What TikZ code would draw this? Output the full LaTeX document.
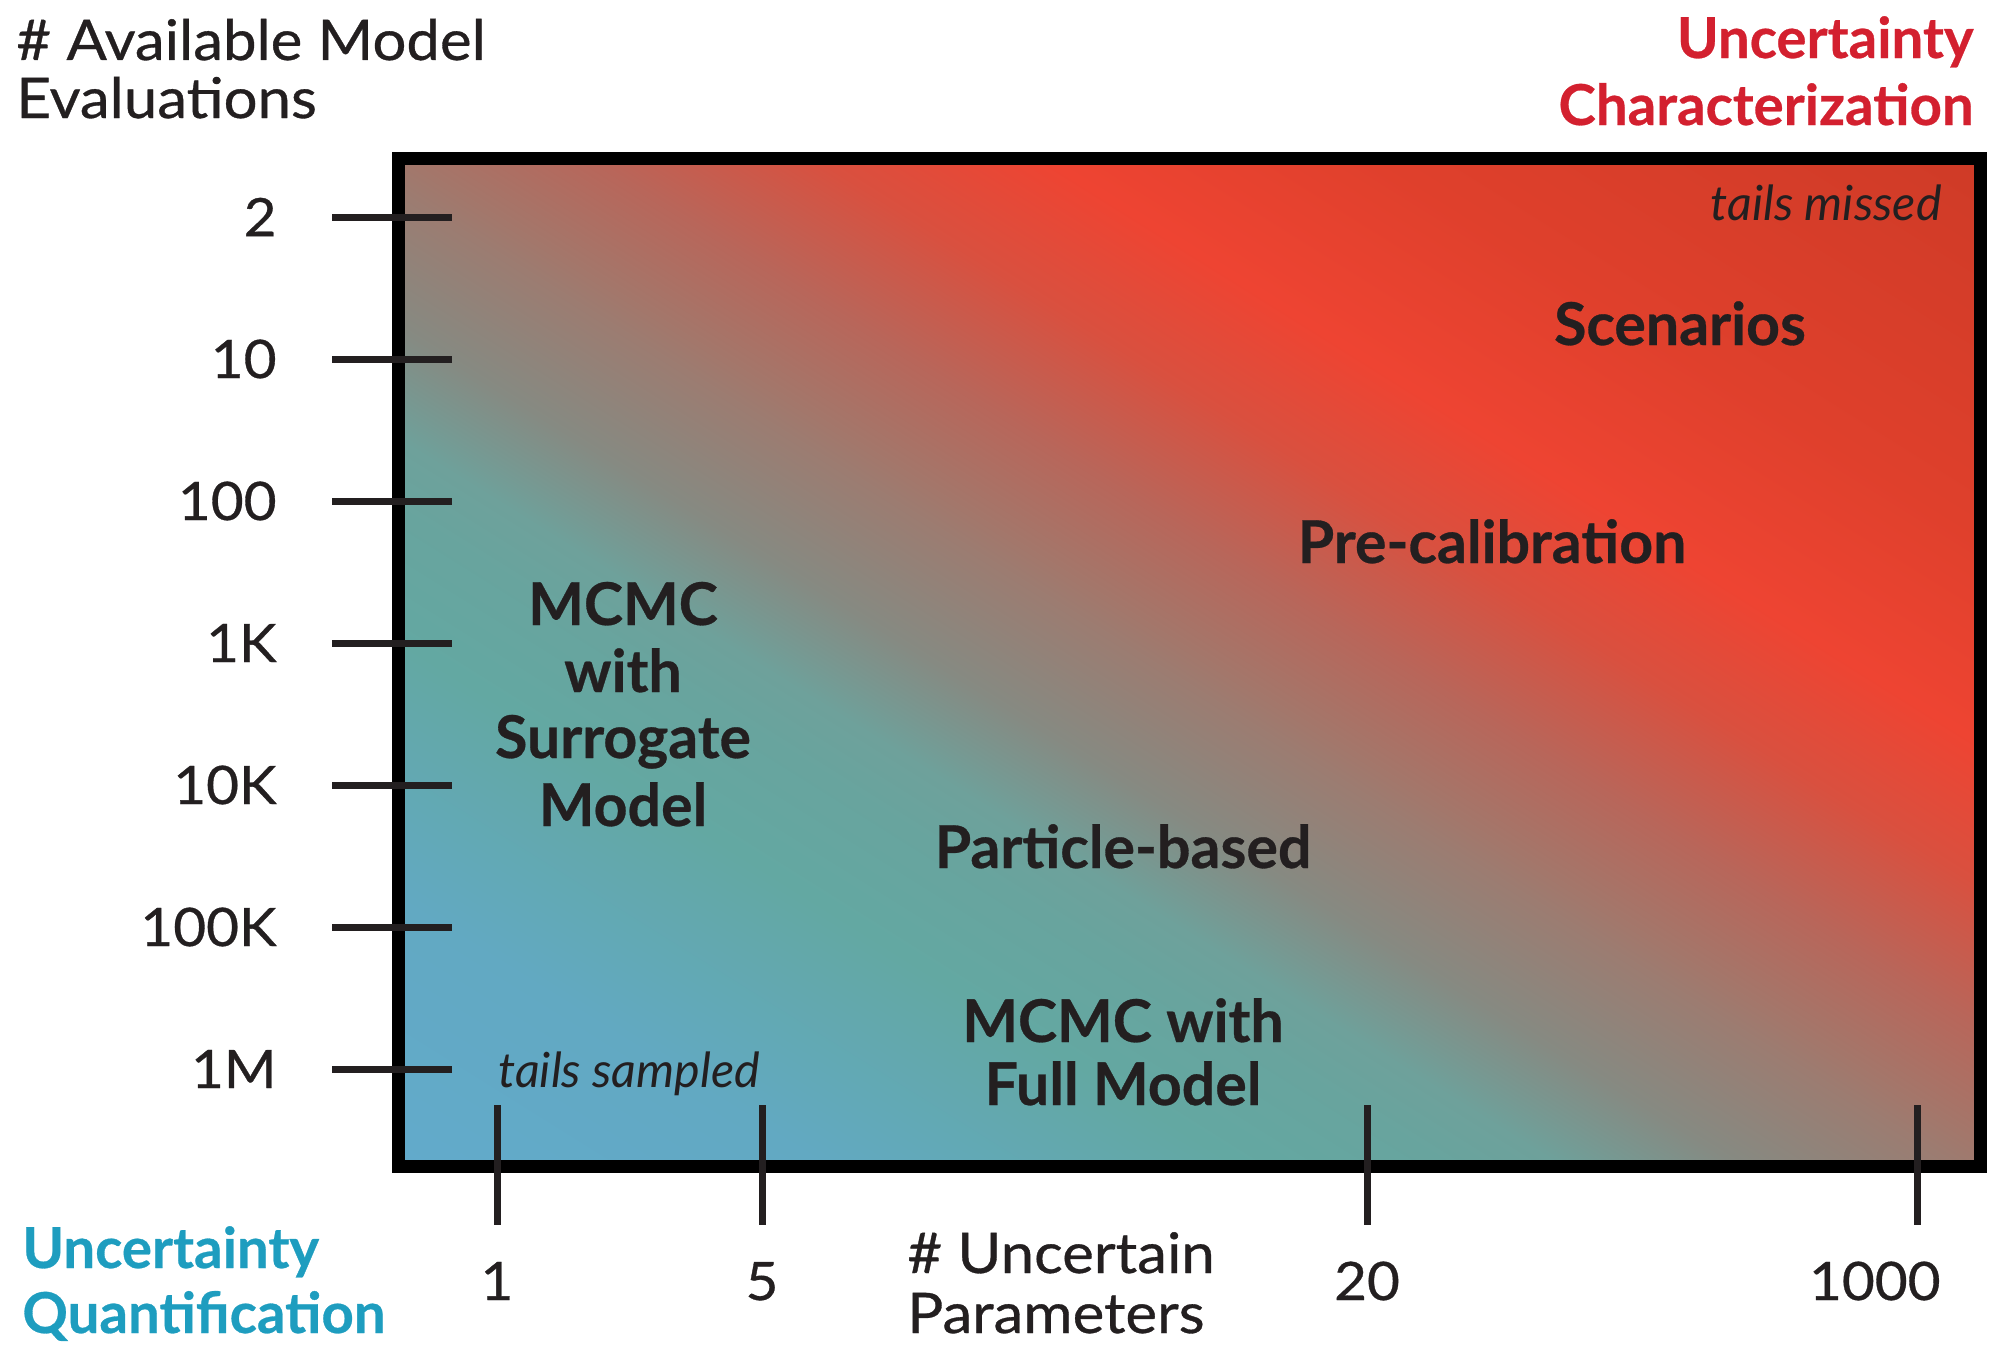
\documentclass[tikz,border=0pt]{standalone}
\usepackage{fontspec}
\setmainfont{Lato}
\newfontfamily\axfont{Lato}[FakeStretch=1.07, FakeBold=0.6]
\newfontfamily\labfont{Lato}[FakeBold=0.5]
\definecolor{ink}{HTML}{231F20}
\definecolor{ucred}{HTML}{D3202F}
\definecolor{uqblue}{HTML}{1E9DBF}
\definecolor{g0}{HTML}{62AACB}
\definecolor{g1}{HTML}{62A9C2}
\definecolor{g2}{HTML}{63A8A2}
\definecolor{g3}{HTML}{68A49E}
\definecolor{g4}{HTML}{6EA19B}
\definecolor{g5}{HTML}{868A82}
\definecolor{g6}{HTML}{9C7C71}
\definecolor{g7}{HTML}{A3776B}
\definecolor{g8}{HTML}{B8665A}
\definecolor{g9}{HTML}{D9503F}
\definecolor{g10}{HTML}{EE4432}
\definecolor{g11}{HTML}{DF402C}
\definecolor{g12}{HTML}{CF3B27}
\pgfdeclarehorizontalshading{uqshade}{100bp}{color(0bp)=(g0); color(8.1bp)=(g0); color(19bp)=(g1); color(30bp)=(g2); color(35.5bp)=(g3); color(38.5bp)=(g4); color(43.25bp)=(g5); color(49bp)=(g6); color(50.5bp)=(g7); color(55.5bp)=(g8); color(61.5bp)=(g9); color(67.5bp)=(g10); color(76.5bp)=(g11); color(91.9bp)=(g12); color(100bp)=(g12)}
\tikzset{
  tickline/.style={line width=3.5pt, draw=ink},
  ticklab/.style={inner sep=0pt, text=ink, font=\axfont\fontsize{26.5pt}{31pt}\selectfont},
  axtitle/.style={inner sep=0pt, text=ink, font=\axfont\fontsize{28pt}{33pt}\selectfont},
  corner/.style={inner sep=0pt, font=\labfont\fontsize{28.2pt}{33pt}\selectfont\bfseries},
  method/.style={inner sep=0pt, text=ink, anchor=base, font=\labfont\fontsize{29.5pt}{35pt}\selectfont\bfseries},
  tails/.style={inner sep=0pt, text=ink, font=\fontsize{24.2pt}{29pt}\selectfont\itshape},
}
\begin{document}
\begin{tikzpicture}[x=0.5pt,y=-0.5pt]
\useasboundingbox (0,0) rectangle (1999,1360);
% plot area
\node[minimum width=791pt, minimum height=504pt, inner sep=0pt, outer sep=0pt] (plot) at (1189,662.5) {};
\begin{scope}
  \clip (plot.south west) rectangle (plot.north east);
  \begin{scope}[shift={(plot.center)}, rotate=58]
    \pgftransformscale{9.9626}
    \pgflowlevelsynccm
    \pgfuseshading{uqshade}
  \end{scope}
\end{scope}
\draw[line width=6.5pt] (plot.south west) rectangle (plot.north east);
% y ticks
\foreach \yy/\lab/\nm in {217/2/ya,359/10/yb,501/100/yc,643/1K/yd,785/10K/ye,927/100K/yf,1069/1M/yg}{
  \coordinate (\nm l) at (332,\yy);
  \coordinate (\nm r) at (452,\yy);
  \draw[tickline] (\nm l) -- (\nm r);
  \node[ticklab, anchor=east] (\nm) at (277,\yy) {\lab};
}
% x ticks
\foreach \xx/\nm in {497/xa,762/xb,1367/xc,1917/xd}{
  \coordinate (\nm t) at (\xx,1105);
  \coordinate (\nm b) at (\xx,1225);
  \draw[tickline] (\nm t) -- (\nm b);
}
\node[ticklab, anchor=base] (xlab1) at (497,1300) {1};
\node[ticklab, anchor=base] (xlab5) at (762,1300) {5};
\node[ticklab, anchor=base] (xlab20) at (1367,1300) {20};
\node[ticklab, anchor=base east] (xlab1000) at (1941,1300) {1000};
% axis titles
\node[axtitle, anchor=base west] (ytitle1) at (16,60) {\# Available Model};
\node[axtitle, anchor=base west] (ytitle2) at (16,118) {Evaluations};
\node[axtitle, anchor=base west] (xtitle1) at (907,1273) {\# Uncertain};
\node[axtitle, anchor=base west] (xtitle2) at (907,1333) {Parameters};
% corner titles
\node[corner, text=ucred, anchor=base east] (uc1) at (1974,58) {Uncertainty};
\node[corner, text=ucred, anchor=base east] (uc2) at (1974,125) {Characterization};
\node[corner, text=uqblue, anchor=base west] (uq1) at (22,1268) {Uncertainty};
\node[corner, text=uqblue, anchor=base west] (uq2) at (22,1333) {Quantification};
% methods
\node[method] (scen) at (1680,345) {Scenarios};
\node[method] (precal) at (1492,563) {Pre-calibration};
\node[method] (mcs1) at (623,625) {MCMC};
\node[method] (mcs2) at (623,692) {with};
\node[method] (mcs3) at (623,758) {Surrogate};
\node[method] (mcs4) at (623,826) {Model};
\node[method] (part) at (1123,868) {Particle-based};
\node[method] (mcf1) at (1123,1042) {MCMC with};
\node[method] (mcf2) at (1123,1105) {Full Model};
\node[tails, anchor=base west] (tsamp) at (498,1087) {tails sampled};
\node[tails, anchor=base east] (tmiss) at (1942,220) {tails missed};
\end{tikzpicture}
\end{document}
